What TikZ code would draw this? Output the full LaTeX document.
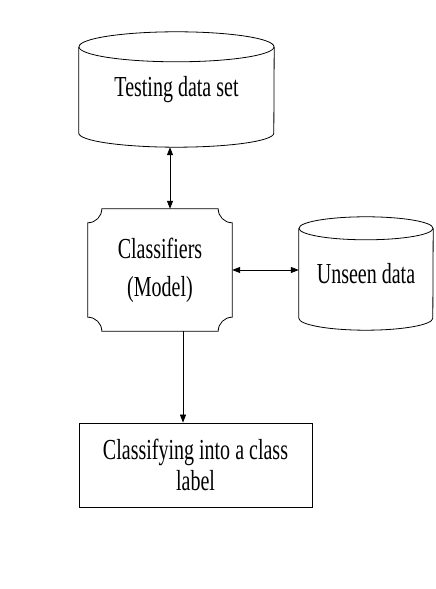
\documentclass[tikz,border=0pt]{standalone}
\usepackage{fontspec}
\setmainfont{Liberation Serif}[FakeStretch=0.69]
\usetikzlibrary{arrows.meta,calc}

\begin{document}
\begin{tikzpicture}[x=1pt,y=1pt,
        store/.style={inner sep=0pt,align=center,font=\fontsize{29}{35}\selectfont},
        model/.style={inner sep=0pt,minimum width=144pt,minimum height=122pt,
            align=center,font=\fontsize{29}{38}\selectfont},
        box/.style={draw,line width=0.8pt,inner sep=0pt,minimum width=233pt,
            minimum height=84pt,align=center,font=\fontsize{29}{31}\selectfont},
        edge/.style={line width=0.8pt},
        link/.style={edge,{Triangle[width=6pt,length=8pt]}-{Triangle[width=6pt,length=8pt]}},
        flow/.style={edge,-{Triangle[width=6pt,length=8pt]}}]
\useasboundingbox (0,0) rectangle (436,589);

\node[store,minimum width=195pt,minimum height=115pt] (tst) at (176.5,499.5) {Testing data set};
\draw[edge] ($(tst.north west)+(0,-15)$) -- ($(tst.south west)+(0,14)$)
    arc[start angle=180,end angle=360,x radius=97.5pt,y radius=14pt]
    -- ($(tst.north east)+(0,-15)$);
\draw[edge] ($(tst.north)+(0,-15)$) ellipse[x radius=97.5pt,y radius=15pt];

\node[model] (cls) at (160,319) {Classifiers\\(Model)};
\draw[edge] ($(cls.north west)+(14,0)$) -- ($(cls.north east)+(-14,0)$)
    arc[start angle=180,end angle=270,radius=14pt] -- ($(cls.south east)+(0,14)$)
    arc[start angle=90,end angle=180,radius=14pt] -- ($(cls.south west)+(14,0)$)
    arc[start angle=0,end angle=90,radius=14pt] -- ($(cls.north west)+(0,-14)$)
    arc[start angle=270,end angle=360,radius=14pt] -- cycle;

\node[store,minimum width=134pt,minimum height=113pt] (uns) at (366,315.5) {Unseen data};
\draw[edge] ($(uns.north west)+(0,-11.5)$) -- ($(uns.south west)+(0,12)$)
    arc[start angle=180,end angle=360,x radius=67pt,y radius=12pt]
    -- ($(uns.north east)+(0,-11.5)$);
\draw[edge] ($(uns.north)+(0,-11.5)$) ellipse[x radius=67pt,y radius=11.5pt];

\node[box] (lbl) at (195.5,124) {Classifying into a class\\label};

\draw[link] ([xshift=-6.5pt]tst.south) -- ([xshift=-6.5pt]tst.south |- cls.north);
\draw[link] (cls.east) -- (cls.east -| uns.west);
\draw[flow] ([xshift=23pt]cls.south) -- ([xshift=23pt]cls.south |- lbl.north);
\end{tikzpicture}
\end{document}
